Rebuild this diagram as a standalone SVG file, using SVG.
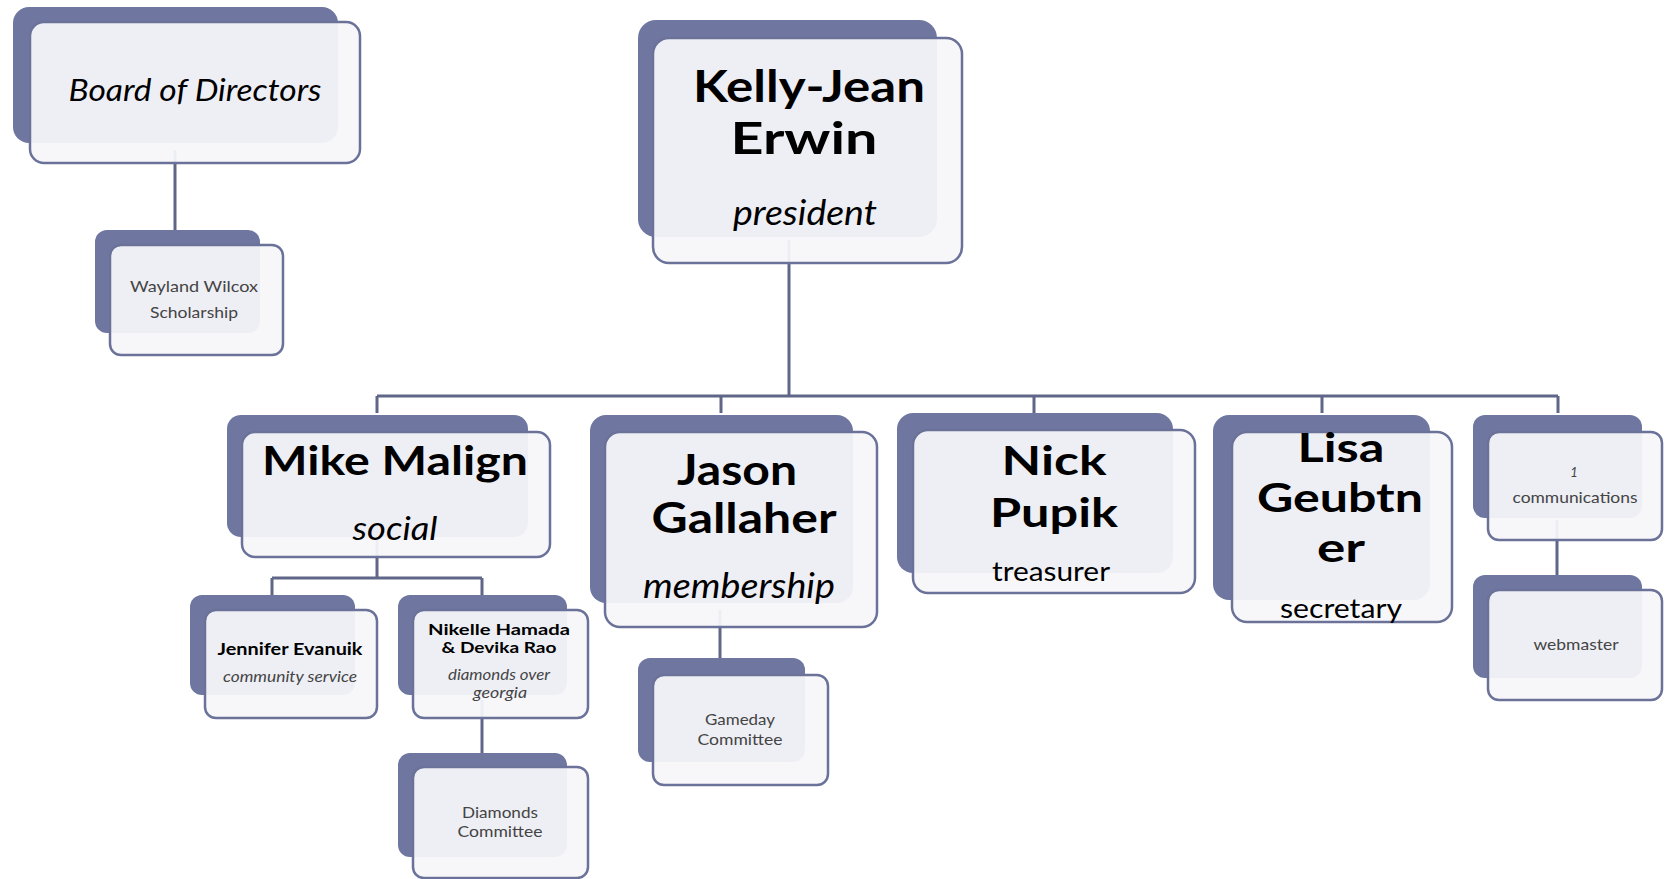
<svg xmlns="http://www.w3.org/2000/svg" width="1666" height="879" viewBox="0 0 1666 879">
<style>
.back{fill:#6f77a1}
.front{fill:#f6f7fa;fill-opacity:0.94;stroke:#6b7299;stroke-width:2.5}
.con{stroke:#5f6688;stroke-width:3;fill:none}
text{font-family:Lato,"Open Sans","Liberation Sans",sans-serif;text-anchor:middle;fill:#000}
.b{font-weight:700}
.i{font-style:italic}
.s{fill:#444}
</style>
<rect width="1666" height="879" fill="#ffffff"/>
<g id="connectors">
<path class="con" d="M175 150V230"/>
<path class="con" d="M789 240V396"/>
<path class="con" d="M377 396H1558"/>
<path class="con" d="M377 396V413M721 396V413M1034 396V413M1322 396V413M1558 396V413"/>
<path class="con" d="M377 540V578M272 578H482M272 578V595M482 578V595"/>
<path class="con" d="M482 700V753"/>
<path class="con" d="M720 610V658"/>
<path class="con" d="M1557 520V575"/>
</g>
<g id="board">
<rect class="back" x="13" y="7" width="325" height="136" rx="16"/>
<rect class="front" x="30" y="22" width="330" height="141" rx="14"/>
<text class="i" x="195" y="101" font-size="31" textLength="253" lengthAdjust="spacingAndGlyphs">Board of Directors</text>
</g>
<g id="wayland">
<rect class="back" x="95" y="230" width="165" height="103" rx="12"/>
<rect class="front" x="110" y="245" width="173" height="110" rx="11"/>
<text class="s" x="194" y="292" font-size="16" textLength="128" lengthAdjust="spacingAndGlyphs">Wayland Wilcox</text>
<text class="s" x="194" y="318" font-size="16" textLength="88" lengthAdjust="spacingAndGlyphs">Scholarship</text>
</g>
<g id="kelly">
<rect class="back" x="638" y="20" width="299" height="217" rx="18"/>
<rect class="front" x="653" y="38" width="309" height="225" rx="16"/>
<text class="b" x="809" y="102" font-size="43" textLength="232" lengthAdjust="spacingAndGlyphs">Kelly-Jean</text>
<text class="b" x="804" y="154" font-size="43" textLength="147" lengthAdjust="spacingAndGlyphs">Erwin</text>
<text class="i" x="805" y="225" font-size="34" textLength="144" lengthAdjust="spacingAndGlyphs">president</text>
</g>
<g id="mike">
<rect class="back" x="227" y="415" width="301" height="122" rx="14"/>
<rect class="front" x="242" y="432" width="308" height="125" rx="13"/>
<text class="b" x="395" y="475" font-size="40" textLength="266" lengthAdjust="spacingAndGlyphs">Mike Malign</text>
<text class="i" x="395" y="540" font-size="33" textLength="85" lengthAdjust="spacingAndGlyphs">social</text>
</g>
<g id="jennifer">
<rect class="back" x="190" y="595" width="165" height="100" rx="12"/>
<rect class="front" x="205" y="610" width="172" height="108" rx="11"/>
<text class="b" x="290" y="655" font-size="17" textLength="145" lengthAdjust="spacingAndGlyphs">Jennifer Evanuik</text>
<text class="i s" x="290" y="682" font-size="15" textLength="134" lengthAdjust="spacingAndGlyphs">community service</text>
</g>
<g id="nikelle">
<rect class="back" x="398" y="595" width="169" height="100" rx="12"/>
<rect class="front" x="413" y="610" width="175" height="108" rx="11"/>
<text class="b" x="499" y="635" font-size="16" textLength="142" lengthAdjust="spacingAndGlyphs">Nikelle Hamada</text>
<text class="b" x="499" y="653" font-size="16" textLength="115" lengthAdjust="spacingAndGlyphs">&amp; Devika Rao</text>
<text class="i s" x="499" y="680" font-size="15" textLength="102" lengthAdjust="spacingAndGlyphs">diamonds over</text>
<text class="i s" x="500" y="698" font-size="15" textLength="54" lengthAdjust="spacingAndGlyphs">georgia</text>
</g>
<g id="diamonds">
<rect class="back" x="398" y="753" width="169" height="104" rx="12"/>
<rect class="front" x="413" y="767" width="175" height="111" rx="11"/>
<text class="s" x="500" y="818" font-size="16" textLength="76" lengthAdjust="spacingAndGlyphs">Diamonds</text>
<text class="s" x="500" y="837" font-size="16" textLength="85" lengthAdjust="spacingAndGlyphs">Committee</text>
</g>
<g id="jason">
<rect class="back" x="590" y="415" width="263" height="188" rx="16"/>
<rect class="front" x="605" y="432" width="272" height="195" rx="15"/>
<text class="b" x="737" y="485" font-size="42" textLength="120" lengthAdjust="spacingAndGlyphs">Jason</text>
<text class="b" x="744" y="533" font-size="42" textLength="185" lengthAdjust="spacingAndGlyphs">Gallaher</text>
<text class="i" x="739" y="598" font-size="35" textLength="192" lengthAdjust="spacingAndGlyphs">membership</text>
</g>
<g id="gameday">
<rect class="back" x="638" y="658" width="167" height="104" rx="12"/>
<rect class="front" x="653" y="675" width="175" height="110" rx="11"/>
<text class="s" x="740" y="725" font-size="15" textLength="70" lengthAdjust="spacingAndGlyphs">Gameday</text>
<text class="s" x="740" y="745" font-size="15" textLength="85" lengthAdjust="spacingAndGlyphs">Committee</text>
</g>
<g id="nick">
<rect class="back" x="897" y="413" width="276" height="160" rx="16"/>
<rect class="front" x="913" y="430" width="282" height="163" rx="15"/>
<text class="b" x="1054" y="475" font-size="40" textLength="105" lengthAdjust="spacingAndGlyphs">Nick</text>
<text class="b" x="1054" y="527" font-size="40" textLength="128" lengthAdjust="spacingAndGlyphs">Pupik</text>
<text x="1051" y="581" font-size="27" textLength="118" lengthAdjust="spacingAndGlyphs">treasurer</text>
</g>
<g id="lisa">
<rect class="back" x="1213" y="415" width="217" height="185" rx="16"/>
<rect class="front" x="1232" y="432" width="220" height="190" rx="15"/>
<text class="b" x="1341" y="462" font-size="40" textLength="87" lengthAdjust="spacingAndGlyphs">Lisa</text>
<text class="b" x="1340" y="512" font-size="40" textLength="166" lengthAdjust="spacingAndGlyphs">Geubtn</text>
<text class="b" x="1341" y="562" font-size="40" textLength="48" lengthAdjust="spacingAndGlyphs">er</text>
<text x="1341" y="618" font-size="27" textLength="122" lengthAdjust="spacingAndGlyphs">secretary</text>
</g>
<g id="communications">
<rect class="back" x="1473" y="415" width="169" height="103" rx="12"/>
<rect class="front" x="1488" y="432" width="174" height="108" rx="11"/>
<text class="i s" x="1574" y="477" font-size="13">1</text>
<text class="s" x="1575" y="503" font-size="15" textLength="125" lengthAdjust="spacingAndGlyphs">communications</text>
</g>
<g id="webmaster">
<rect class="back" x="1473" y="575" width="169" height="103" rx="12"/>
<rect class="front" x="1488" y="590" width="174" height="110" rx="11"/>
<text class="s" x="1576" y="650" font-size="15" textLength="85" lengthAdjust="spacingAndGlyphs">webmaster</text>
</g>
</svg>
